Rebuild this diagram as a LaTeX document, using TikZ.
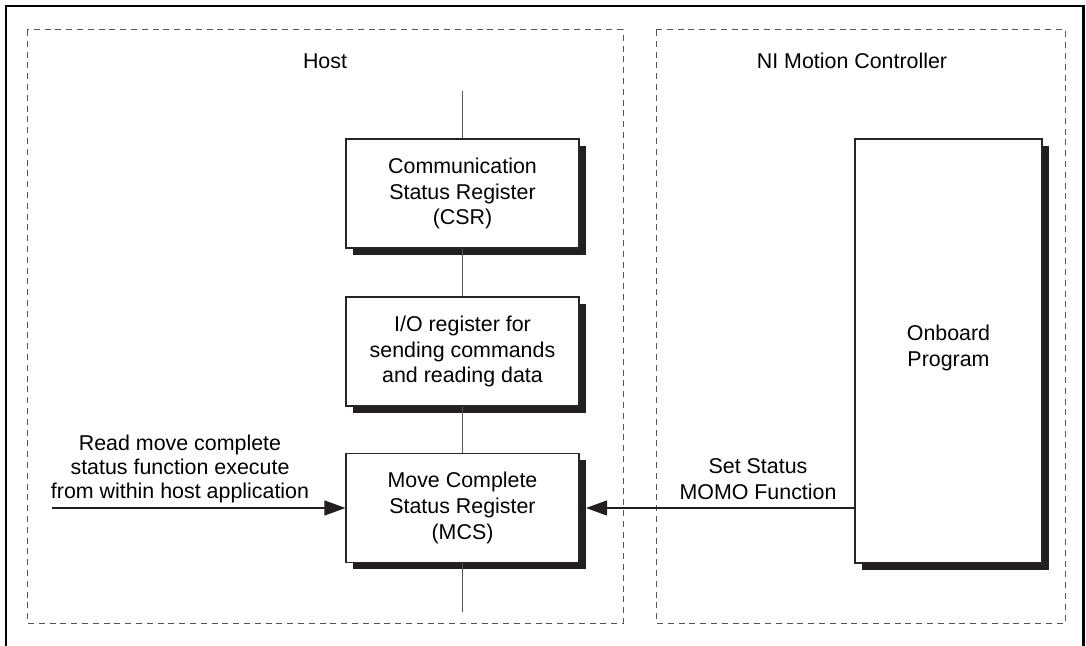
\documentclass[tikz,border=0pt]{standalone}
\usepackage{fontspec}
\setmainfont{Liberation Sans}
\usetikzlibrary{arrows.meta}
\definecolor{shadowblack}{HTML}{231F20}
\definecolor{linegray}{HTML}{555555}
\definecolor{dashgray}{HTML}{555555}
\begin{document}
\begin{tikzpicture}[x=0.5pt,y=-0.5pt,
  every node/.style={font=\fontsize{10.7}{12.8}\selectfont, inner sep=0pt},
  regbox/.style={draw=black!85, line width=0.55pt, fill=white, align=center,
    minimum width=116.5pt, minimum height=54.5pt,
    preaction={fill=shadowblack, draw=none, transform canvas={xshift=3.4pt, yshift=-3.4pt}}},
  region/.style={draw=dashgray, line width=0.5pt, dash pattern=on 3pt off 2.4pt},
  wire/.style={draw=linegray, line width=0.7pt},
  arrowline/.style={draw=shadowblack, line width=0.65pt, -{Triangle[length=10.5pt,width=7.5pt]}},
  caption/.style={align=center}
]
\useasboundingbox (0,0) rectangle (1086,646);
% outer frame (bottom edge lies outside the picture)
\draw[line width=1.1pt, black] (6,660) -- (6,6) -- (1083.5,6) -- (1083.5,660);
% dashed regions
\draw[region] (27,30) rectangle (623,623);
\draw[region] (656,30) rectangle (1065,623);
\node[caption] (host) at (325,61) {Host};
\node[caption] (ni) at (852,61) {NI Motion Controller};
% registers
\node[regbox] (csr) at (462.5,193.5) {Communication\\Status Register\\(CSR)};
\node[regbox] (io) at (462.5,351.5) {I/O register for\\sending commands\\and reading data};
\node[regbox] (mcs) at (462.5,508) {Move Complete\\Status Register\\(MCS)};
% onboard program
\node[regbox, minimum width=93.5pt, minimum height=212pt] (onboard) at (948.5,351) {};
\node[caption] (onboardtxt) at (948.5,348) {Onboard\\Program};
% vertical bus
\coordinate (bustop) at (462.5,91);
\coordinate (busbot) at (462.5,612);
\draw[wire] (bustop) -- (csr.north);
\draw[wire] (csr.south) -- (io.north);
\draw[wire] (io.south) -- (mcs.north);
\draw[wire] (mcs.south) -- (busbot);
% arrows
\coordinate (hoststart) at (52,508);
\draw[arrowline] (hoststart) -- (mcs.west);
\coordinate (mcsshadow) at (586,508);
\draw[arrowline] (onboard.west |- mcs.east) -- (mcsshadow);
\node[caption, font=\fontsize{10.7}{12}\selectfont] (readtxt) at (180,469) {Read move complete\\status function execute\\from within host application};
\node[caption] (settxt) at (758,479) {Set Status\\MOMO Function};
\end{tikzpicture}
\end{document}
